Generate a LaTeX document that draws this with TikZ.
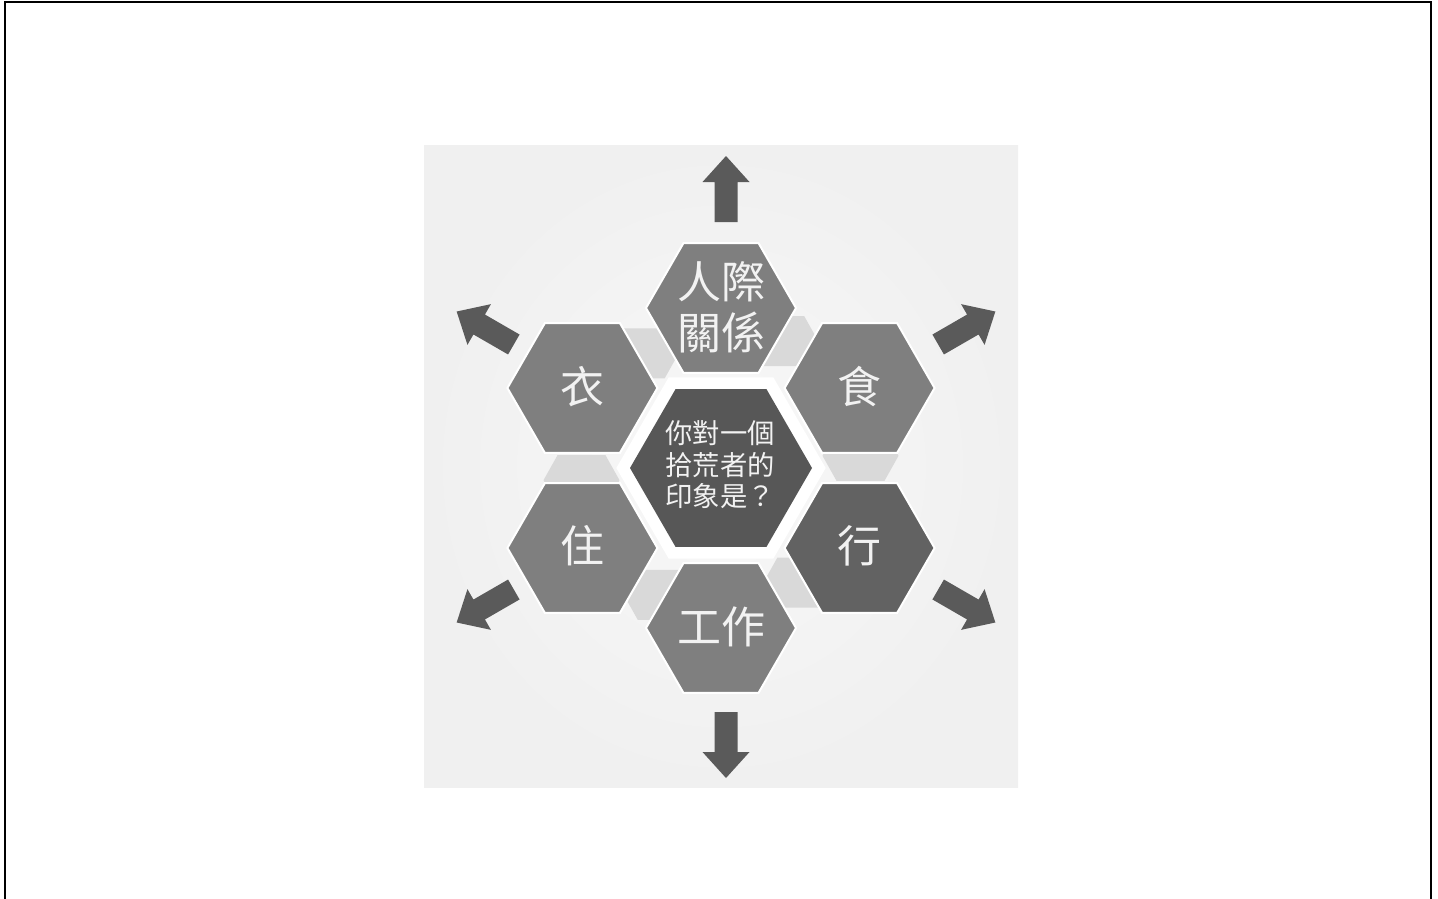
\documentclass[tikz,border=0pt]{standalone}
\usepackage{fontspec}
\newfontfamily\cjk{Noto Sans CJK TC}
\usetikzlibrary{shapes.geometric}
\definecolor{hexgray}{HTML}{7F7F7F}
\definecolor{hexdark}{HTML}{626262}
\definecolor{hexcenter}{HTML}{575757}
\definecolor{connfill}{HTML}{D9D9D9}
\definecolor{arrowfill}{HTML}{5A5A5A}
\definecolor{txtcol}{HTML}{F2F2F2}
\definecolor{bginner}{HTML}{F8F8F8}
\definecolor{bgouter}{HTML}{F0F0F0}
\newcommand\gappiece[2]{\fill[connpiece] (#1-38,#2) -- (#1-24,#2-25) -- (#1+24,#2-25) -- (#1+38,#2) -- (#1+24,#2+25) -- (#1-24,#2+25) -- cycle;}
\newcommand\radarrow[1]{\fill[blockarrow, shift={(726,467)}, rotate=#1] (245,-11.5) -- (285,-11.5) -- (285,-23.5) -- (311,0) -- (285,23.5) -- (285,11.5) -- (245,11.5) -- cycle;}
\begin{document}
\begin{tikzpicture}[x=0.75pt,y=-0.75pt,
  hexouter/.style={regular polygon, regular polygon sides=6, minimum size=112.5pt, inner sep=0pt, outer sep=0pt, draw=white, line width=1.5pt, fill=hexgray},
  hexcore/.style={regular polygon, regular polygon sides=6, minimum size=136.5pt, inner sep=0pt, outer sep=0pt, fill=hexcenter},
  halo/.style={regular polygon, regular polygon sides=6, minimum size=157pt, inner sep=0pt, outer sep=0pt, fill=white},
  bigtxt/.style={font=\cjk\fontsize{33}{38}\selectfont, text=txtcol, align=center, inner sep=0pt},
  coretxt/.style={font=\cjk\fontsize{20.5}{23.6}\selectfont, text=txtcol, align=center, inner sep=0pt},
  connpiece/.style={fill=connfill},
  blockarrow/.style={fill=arrowfill}
]
\useasboundingbox (0,0) rectangle (1438,899);
\fill[white] (0,0) rectangle (1438,899);
\draw[line width=1.5pt] (5,899) -- (5,2) -- (1431,2) -- (1431,899);
% background panel
\shade[inner color=bginner, outer color=bgouter] (424,145) rectangle (1018,787);
% gap pieces between the outer hexagons
\gappiece{860.5}{455.8}
\gappiece{780.2}{341.1}
\gappiece{640.7}{353.3}
\gappiece{581.5}{480.2}
\gappiece{661.8}{594.9}
\gappiece{801.3}{582.7}
% outer hexagons
\node[hexouter] (ren) at (721,308) {};
\node[hexouter] (yi) at (582.4,388) {};
\node[hexouter] (shi) at (859.6,388) {};
\node[hexouter] (zhu) at (582.4,548) {};
\node[hexouter, fill=hexdark] (xing) at (859.6,548) {};
\node[hexouter] (gong) at (721,628) {};
% center
\node[halo] (ring) at (721,468) {};
\node[hexcore] (core) at (721,468) {};
% texts
\node[bigtxt] (ren-t) at (721,307) {人際\\關係};
\node[bigtxt] (yi-t) at (582,387) {衣};
\node[bigtxt] (shi-t) at (859,387) {食};
\node[bigtxt] (zhu-t) at (582,546) {住};
\node[bigtxt] (xing-t) at (859,546) {行};
\node[bigtxt] (gong-t) at (721,627) {工作};
\node[coretxt] (core-t) at (720,465) {你對一個\\拾荒者的\\印象是？};
% outward arrows
\radarrow{90}
\radarrow{30}
\radarrow{-30}
\radarrow{-90}
\radarrow{-150}
\radarrow{150}
\end{tikzpicture}
\end{document}
